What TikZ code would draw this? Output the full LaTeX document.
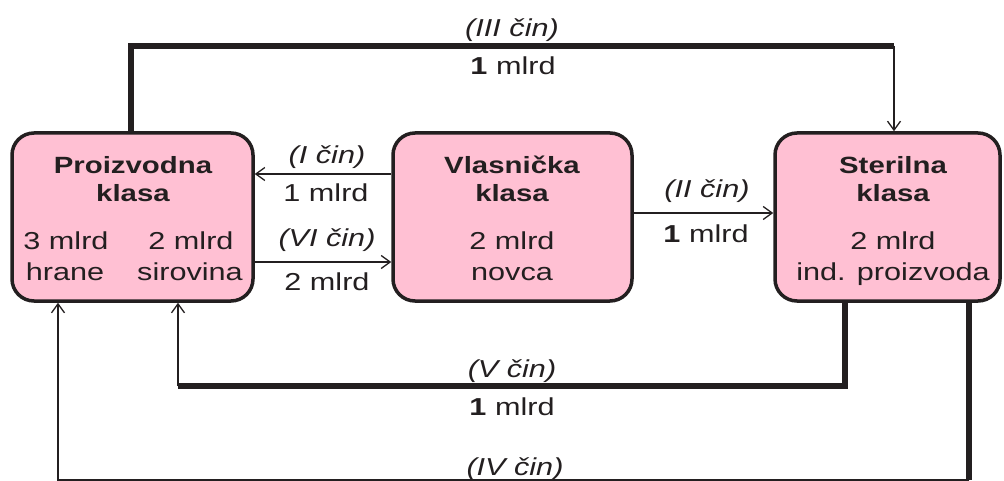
\documentclass[tikz,border=0pt]{standalone}
\usepackage{fontspec}
\setmainfont{Liberation Sans}[FakeStretch=1.25]
\usetikzlibrary{arrows.meta}
\definecolor{boxpink}{HTML}{FFC0D3}
\definecolor{ink}{HTML}{231F20}
\begin{document}
\begin{tikzpicture}[x=1pt,y=-1pt,
  box/.style={draw=ink, line width=3.5pt, fill=boxpink, rounded corners=22pt, inner sep=0pt},
  txt/.style={anchor=base, inner sep=0pt, text=ink, font=\fontsize{24.5}{28}\selectfont},
  btxt/.style={anchor=base, inner sep=0pt, text=ink, font=\fontsize{23.5}{28}\selectfont\bfseries},
  lbl/.style={anchor=base, inner sep=0pt, text=ink, font=\fontsize{24.5}{28}\selectfont\itshape},
  thk/.style={draw=ink, line width=5.5pt, line join=miter},
  thn/.style={draw=ink, line width=1.3pt},
  arr/.style={thn, -{Straight Barb[length=9pt,width=13pt,line width=1.3pt]}}
]
\useasboundingbox (0,0) rectangle (1004,481);
% boxes
\node[box, minimum width=241pt, minimum height=168pt] (P) at (132.5,217) {};
\node[box, minimum width=239pt, minimum height=168pt] (V) at (512.5,217) {};
\node[box, minimum width=225pt, minimum height=168pt] (S) at (887.5,217) {};
% box texts
\node[btxt] (p1) at (133,174) {Proizvodna};
\node[btxt] (p2) at (133,202) {klasa};
\node[txt] (p3) at (66,250) {3 mlrd};
\node[txt] (p4) at (65,280) {hrane};
\node[txt] (p5) at (191,250) {2 mlrd};
\node[txt] (p6) at (190,280) {sirovina};
\node[btxt] (v1t) at (512,174) {Vlasnička};
\node[btxt] (v2t) at (512,202) {klasa};
\node[txt] (v3t) at (512,250) {2 mlrd};
\node[txt] (v4t) at (512,280) {novca};
\node[btxt] (s1t) at (893,174) {Sterilna};
\node[btxt] (s2t) at (893,202) {klasa};
\node[txt] (s3t) at (893,250) {2 mlrd};
\node[txt] (s4t) at (893,280) {ind. proizvoda};
% coordinates
\coordinate (yI) at (0,174);
\coordinate (yVI) at (0,262);
\coordinate (yII) at (0,213);
\coordinate (t1) at (131,46);
\coordinate (t2) at (894,46);
\coordinate (c1) at (845,386);
\coordinate (c2) at (178,386);
\coordinate (d1) at (969,480);
\coordinate (d2) at (58,480);
% connectors
\draw[arr] (V.west |- yI) -- (P.east |- yI);
\draw[arr] (P.east |- yVI) -- (V.west |- yVI);
\draw[arr] (V.east |- yII) -- (S.west |- yII);
\draw[thk] (P.north -| t1) |- (t2);
\draw[arr] (t2) -- (S.north -| t2);
\draw[thk] (S.south -| c1) |- (c2);
\draw[arr] (c2) -- (P.south -| c2);
\draw[thk] (S.south -| d1) -- (d1);
\draw[arr] (d1) -| (P.south -| d2);
% labels
\node[lbl] (l3a) at (512,37) {(III čin)};
\node[txt] (l3b) at (513,75) {\textbf{1} mlrd};
\node[lbl] (l1a) at (327,164) {(I čin)};
\node[txt] (l1b) at (326,202) {1 mlrd};
\node[lbl] (l6a) at (327,247) {(VI čin)};
\node[txt] (l6b) at (327,290) {2 mlrd};
\node[lbl] (l2a) at (707,198) {(II čin)};
\node[txt] (l2b) at (706,243) {\textbf{1} mlrd};
\node[lbl] (l5a) at (512,377) {(V čin)};
\node[txt] (l5b) at (512,415) {\textbf{1} mlrd};
\node[lbl] (l4a) at (515,475) {(IV čin)};
\end{tikzpicture}
\end{document}
